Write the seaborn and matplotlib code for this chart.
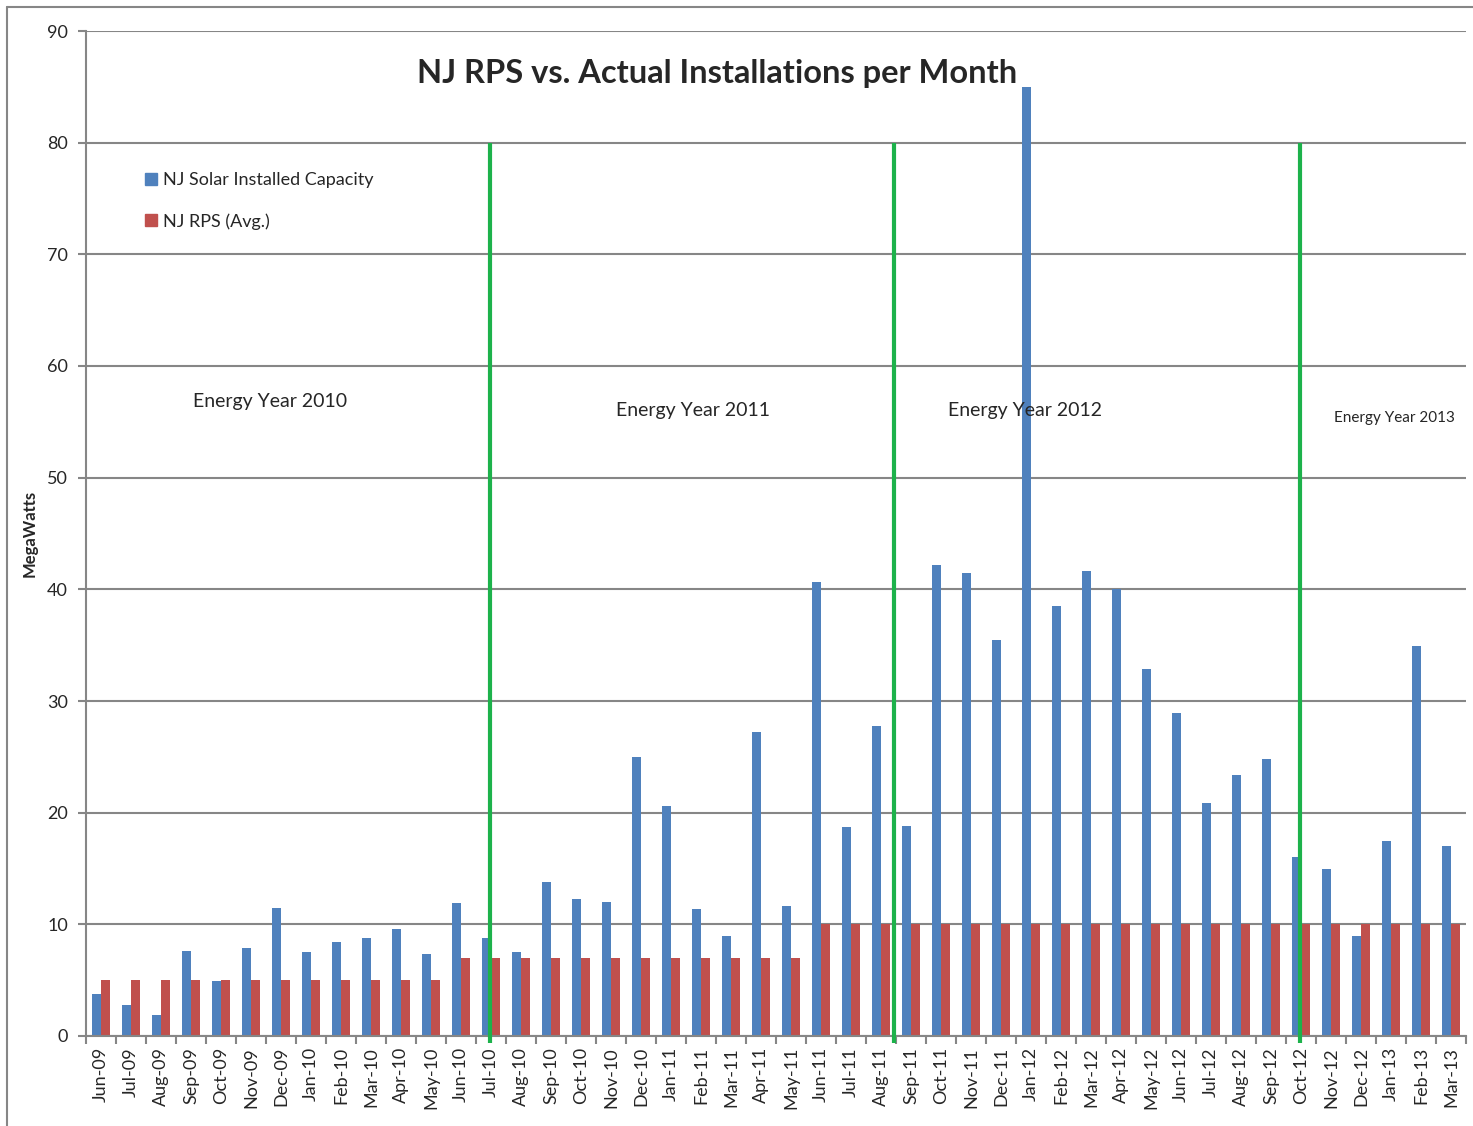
import pandas as pd
import matplotlib.pyplot as plt
import seaborn as sns
from matplotlib.lines import Line2D

sns.set_style("white")
plt.rcParams['font.family'] = ['Lato', 'DejaVu Sans']

# Monthly categories
months = ['Jun-09', 'Jul-09', 'Aug-09', 'Sep-09', 'Oct-09', 'Nov-09', 'Dec-09',
          'Jan-10', 'Feb-10', 'Mar-10', 'Apr-10', 'May-10', 'Jun-10', 'Jul-10',
          'Aug-10', 'Sep-10', 'Oct-10', 'Nov-10', 'Dec-10', 'Jan-11', 'Feb-11',
          'Mar-11', 'Apr-11', 'May-11', 'Jun-11', 'Jul-11', 'Aug-11', 'Sep-11',
          'Oct-11', 'Nov-11', 'Dec-11', 'Jan-12', 'Feb-12', 'Mar-12', 'Apr-12',
          'May-12', 'Jun-12', 'Jul-12', 'Aug-12', 'Sep-12', 'Oct-12', 'Nov-12',
          'Dec-12', 'Jan-13', 'Feb-13', 'Mar-13']

installed = [3.8, 2.8, 1.9, 7.6, 4.9, 7.9, 11.5, 7.5, 8.4, 8.8, 9.6, 7.3, 11.9, 8.8,
             7.5, 13.8, 12.3, 12.0, 25.0, 20.6, 11.4, 9.0, 27.2, 11.6, 40.7, 18.7,
             27.8, 18.8, 42.2, 41.5, 35.5, 85.0, 38.5, 41.6, 40.0, 32.9, 28.9, 20.9,
             23.4, 24.8, 16.0, 15.0, 9.0, 17.5, 34.9, 17.0]

rps = [5] * 12 + [7] * 12 + [10] * 22

series_names = ['NJ Solar Installed Capacity', 'NJ RPS (Avg.)']
colors = ['#4F81BD', '#C0504D']

df = pd.DataFrame({
    'month': months * 2,
    'value': installed + rps,
    'series': [series_names[0]] * len(months) + [series_names[1]] * len(months),
})

fig = plt.figure(figsize=(14.73, 11.26), dpi=100)
ax = fig.add_axes([86 / 1473, 1 - 1036 / 1126, 1380 / 1473, 1005 / 1126])

sns.barplot(data=df, x='month', y='value', hue='series', order=months,
            hue_order=series_names, palette=colors, width=0.62, saturation=1,
            dodge=True, gap=0, linewidth=0, legend=False, ax=ax)

ax.set_xlim(-0.5, len(months) - 0.5)
ax.set_ylim(0, 90)
ax.set_yticks(range(0, 91, 10))
ax.yaxis.grid(True, color='#868686', linewidth=1.5)
ax.set_axisbelow(True)

for side in ['top', 'right']:
    ax.spines[side].set_visible(False)
for side in ['left', 'bottom']:
    ax.spines[side].set_color('#868686')
    ax.spines[side].set_linewidth(1.5)

ax.set_xticks(range(len(months)))
ax.set_xticklabels(months, rotation=90, fontsize=13)
ax.set_xticks([i - 0.5 for i in range(len(months) + 1)], minor=True)
ax.tick_params(axis='x', which='major', length=0, pad=8)
ax.tick_params(axis='x', which='minor', length=6, width=1.5, color='#868686',
               direction='out', bottom=True)
ax.tick_params(axis='y', length=6, width=1.5, color='#868686', direction='out',
               left=True, labelsize=13, pad=7)
ax.set_xlabel('')
ax.set_ylabel('MegaWatts', fontsize=12, fontweight='bold')
ax.yaxis.set_label_coords(-0.035, 0.5)

# Energy year separators
ax.vlines([12.95, 26.43, 39.95], -0.6, 80, color='#1DB24B', linewidth=3,
          clip_on=False, zorder=5)

ax.text(20.53, 86.2, 'NJ RPS vs. Actual Installations per Month',
        ha='center', va='center', fontsize=23.5, fontweight='bold')
ax.text(5.63, 56.8, 'Energy Year 2010', ha='center', va='center', fontsize=14)
ax.text(19.73, 56.0, 'Energy Year 2011', ha='center', va='center', fontsize=14)
ax.text(30.8, 56.0, 'Energy Year 2012', ha='center', va='center', fontsize=14)
ax.text(43.13, 55.3, 'Energy Year 2013', ha='center', va='center', fontsize=11)

handles = [Line2D([0], [0], marker='s', linestyle='', markersize=9,
                  markerfacecolor=c, markeredgecolor=c) for c in colors]
ax.legend(handles, series_names, loc='upper left', bbox_to_anchor=(0.031, 0.876),
          frameon=False, fontsize=13, handlelength=0.7, handletextpad=0.3,
          labelspacing=1.4)

# Outer chart border
fig.add_artist(Line2D([7 / 1473, 1], [1 - 7 / 1126, 1 - 7 / 1126],
                      color='#868686', linewidth=1.5))
fig.add_artist(Line2D([7 / 1473, 7 / 1473], [0, 1 - 7 / 1126],
                      color='#868686', linewidth=1.5))

fig.savefig('out.png', dpi=100)
